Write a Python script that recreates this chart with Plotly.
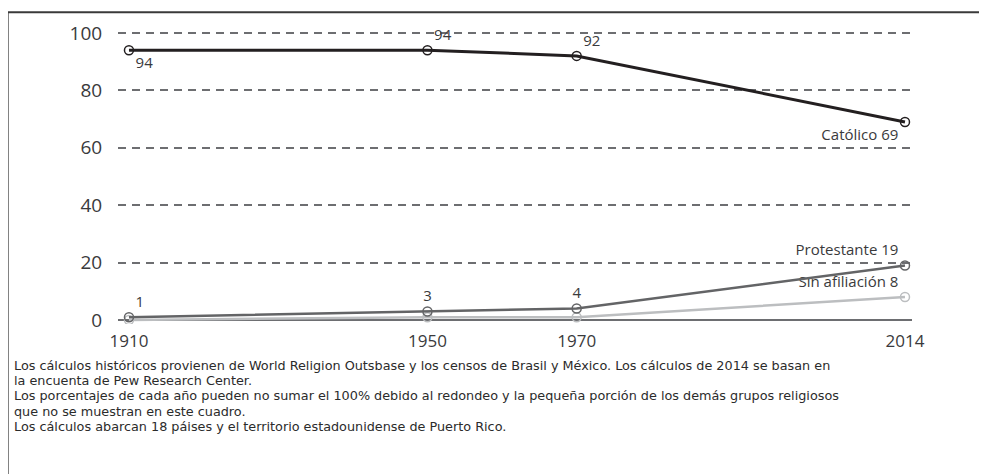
import plotly.graph_objects as go

years = [1910, 1950, 1970, 2014]
catolico = [94, 94, 92, 69]
protestante = [1, 3, 4, 19]
sin_afiliacion = [0, 1, 1, 8]

catolico_text = ["94", "94", "92", "Católico 69"]
protestante_text = ["1", "3", "4", "Protestante 19"]
sin_afiliacion_text = ["", "", "", "Sin afiliación 8"]

y_ticks = [0, 20, 40, 60, 80, 100]

nota_lineas = [
    "Los cálculos históricos provienen de World Religion Outsbase y los censos de Brasil y México. "
    "Los cálculos de 2014 se basan en",
    "la encuenta de Pew Research Center.",
    "Los porcentajes de cada año pueden no sumar el 100% debido al redondeo y la pequeña porción "
    "de los demás grupos religiosos",
    "que no se muestran en este cuadro.",
    "Los cálculos abarcan 18 páises y el territorio estadounidense de Puerto Rico.",
]

FONT = "Open Sans"
TXT = "#3a3a3c"

fig = go.Figure()

fig.add_trace(go.Scatter(
    x=years, y=sin_afiliacion,
    mode="lines+markers+text",
    line=dict(color="#bcbec0", width=2.5),
    marker=dict(symbol="circle-open", size=9, color="#bcbec0", line=dict(width=1.5)),
    text=sin_afiliacion_text,
    textposition=["top right", "top center", "top center", "top left"],
    textfont=dict(family=FONT, size=15, color=TXT),
    showlegend=False
))

fig.add_trace(go.Scatter(
    x=years, y=protestante,
    mode="lines+markers+text",
    line=dict(color="#636466", width=2.5),
    marker=dict(symbol="circle-open", size=9, color="#636466", line=dict(width=1.5)),
    text=protestante_text,
    textposition=["top right", "top center", "top center", "top left"],
    textfont=dict(family=FONT, size=15, color=TXT),
    showlegend=False
))

fig.add_trace(go.Scatter(
    x=years, y=catolico,
    mode="lines+markers+text",
    line=dict(color="#231f20", width=3),
    marker=dict(symbol="circle-open", size=9, color="#231f20", line=dict(width=1.5)),
    text=catolico_text,
    textposition=["bottom right", "top right", "top right", "bottom left"],
    textfont=dict(family=FONT, size=15, color=TXT),
    showlegend=False
))

# footnote, one annotation per line
notas = []
for i, linea in enumerate(nota_lineas):
    notas.append(dict(
        text=linea,
        xref="paper", yref="paper",
        x=-0.1335, y=(324 - 366 - i * 15.3) / 300,
        xanchor="left", yanchor="middle",
        showarrow=False,
        font=dict(family="DejaVu Sans", size=12.8, color="#2b2b2b"),
    ))

fig.update_layout(
    width=979,
    height=466,
    paper_bgcolor="white",
    plot_bgcolor="white",
    font=dict(family=FONT, color=TXT),
    margin=dict(l=110, r=75, t=16, b=150),
    xaxis=dict(
        range=[1908.53, 2014.94],
        tickvals=years,
        ticktext=[str(y) for y in years],
        showgrid=False,
        zeroline=False,
        showline=False,
        ticks="outside",
        ticklen=2,
        tickcolor="rgba(0,0,0,0)",
        tickfont=dict(family=FONT, size=17, color=TXT),
    ),
    yaxis=dict(
        range=[-1.38, 102.07],
        tickvals=y_ticks,
        showgrid=True,
        gridcolor="#6d6e71",
        gridwidth=1.5,
        griddash="8px,6px",
        zeroline=True,
        zerolinecolor="#6d6e71",
        zerolinewidth=2,
        showline=False,
        ticks="outside",
        ticklen=11,
        tickcolor="rgba(0,0,0,0)",
        tickfont=dict(family=FONT, size=19, color=TXT),
    ),
    annotations=notas,
    shapes=[
        dict(type="line", xref="paper", yref="paper",
             x0=-0.139, x1=1.2, y0=1.05, y1=1.05,
             line=dict(color="#3a3a3a", width=2)),
        dict(type="line", xref="paper", yref="paper",
             x0=-0.139, x1=-0.139, y0=1.05, y1=-0.6,
             line=dict(color="#3a3a3a", width=2)),
    ],
)

fig.write_html("out.html")
